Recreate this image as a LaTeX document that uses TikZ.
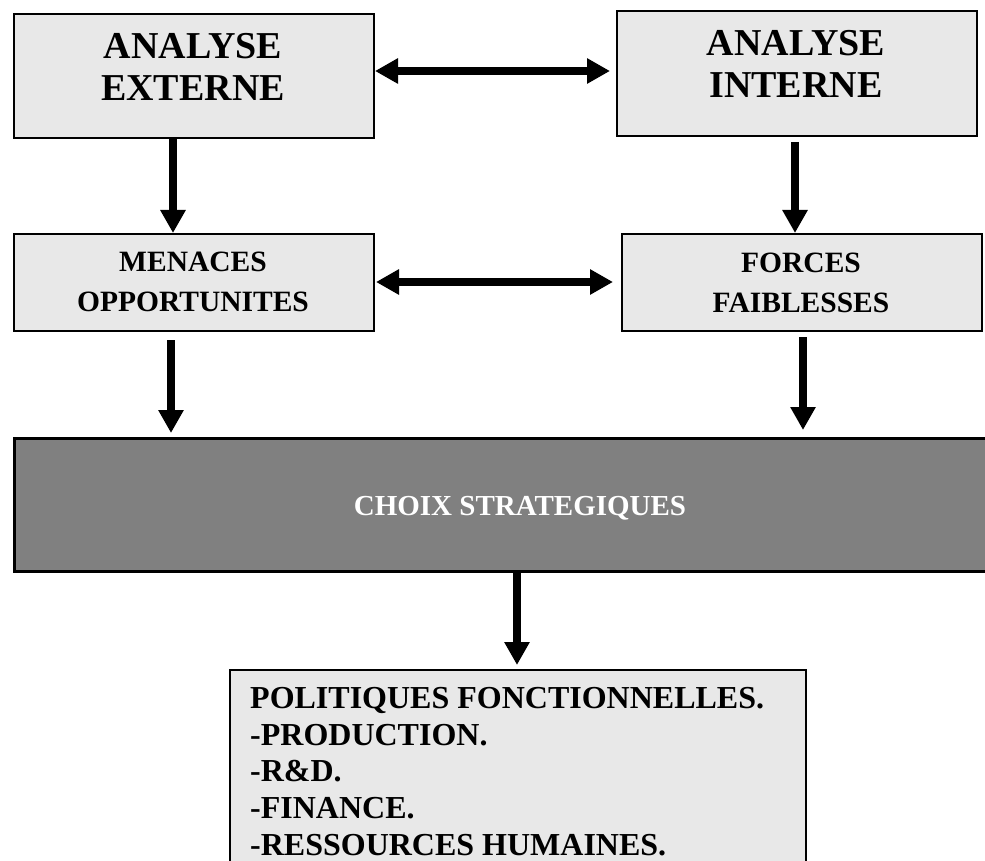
\documentclass[tikz,border=0pt]{standalone}
\usepackage{fontspec}
\setmainfont{Liberation Serif}
\usetikzlibrary{arrows.meta}
\definecolor{boxgray}{HTML}{E8E8E8}
\definecolor{darkbox}{HTML}{808080}
\tikzset{
  box/.style={draw=black, line width=2pt, fill=boxgray, anchor=north west, inner sep=0pt},
  darkboxst/.style={draw=black, line width=3pt, fill=darkbox, anchor=north west, inner sep=0pt},
  arr/.style={line width=8pt, -{Triangle[width=24pt,length=23pt]}},
  darr/.style={line width=8pt, {Triangle[width=24pt,length=23pt]}-{Triangle[width=24pt,length=23pt]}},
  bigtxt/.style={font=\fontsize{38}{42}\selectfont\bfseries, align=center, inner sep=0pt},
  midtxt/.style={font=\fontsize{29.5}{40}\selectfont\bfseries, align=center, inner sep=0pt},
  choixtxt/.style={font=\fontsize{29}{36}\selectfont\bfseries, text=white, inner sep=0pt, anchor=base},
  listtxt/.style={font=\fontsize{32}{36.8}\selectfont\bfseries, align=left, inner sep=0pt, anchor=north west},
}
\begin{document}
\begin{tikzpicture}[x=1pt,y=-1pt]
\useasboundingbox (0,0) rectangle (985,861);
% boxes
\node[box, minimum width=360pt, minimum height=124pt] (e) at (13,13) {};
\node[box, minimum width=360pt, minimum height=125pt] (i) at (616,10) {};
\node[box, minimum width=360pt, minimum height=97pt] (m) at (13,233) {};
\node[box, minimum width=360pt, minimum height=97pt] (f) at (621,233) {};
\node[darkboxst, minimum width=1008pt, minimum height=133pt] (c) at (13,437) {};
\node[box, minimum width=576pt, minimum height=230pt] (p) at (229,669) {};
% texts
\node[bigtxt] (te) at (193,66.5) {ANALYSE\\EXTERNE};
\node[bigtxt] (ti) at (796,64) {ANALYSE\\INTERNE};
\node[midtxt] (tm) at (193,282.3) {MENACES\\OPPORTUNITES};
\node[midtxt] (tf) at (801,283) {FORCES\\FAIBLESSES};
\node[choixtxt] (tc) at (520,515) {CHOIX STRATEGIQUES};
\node[listtxt] (tp) at (250,687) {POLITIQUES FONCTIONNELLES.\\-PRODUCTION.\\-R\&D.\\-FINANCE.\\-RESSOURCES HUMAINES.};
% connectors
\draw[darr] (e.east |- 0,71) -- ([xshift=-6pt]i.west |- 0,71);
\draw[darr] ([xshift=1pt]m.east |- 0,282) -- ([xshift=-8pt]f.west |- 0,282);
\draw[arr] (e.south -| 173,0) -- (m.north -| 173,0);
\draw[arr, shorten <=5pt] (i.south -| 795,0) -- (f.north -| 795,0);
\draw[arr, shorten <=8pt] (m.south -| 171,0) -- ([yshift=4pt]c.north -| 171,0);
\draw[arr, shorten <=5pt] (f.south -| 803,0) -- ([yshift=7pt]c.north -| 803,0);
\draw[arr] (c.south -| 517,0) -- ([yshift=4pt]p.north -| 517,0);
\end{tikzpicture}
\end{document}
